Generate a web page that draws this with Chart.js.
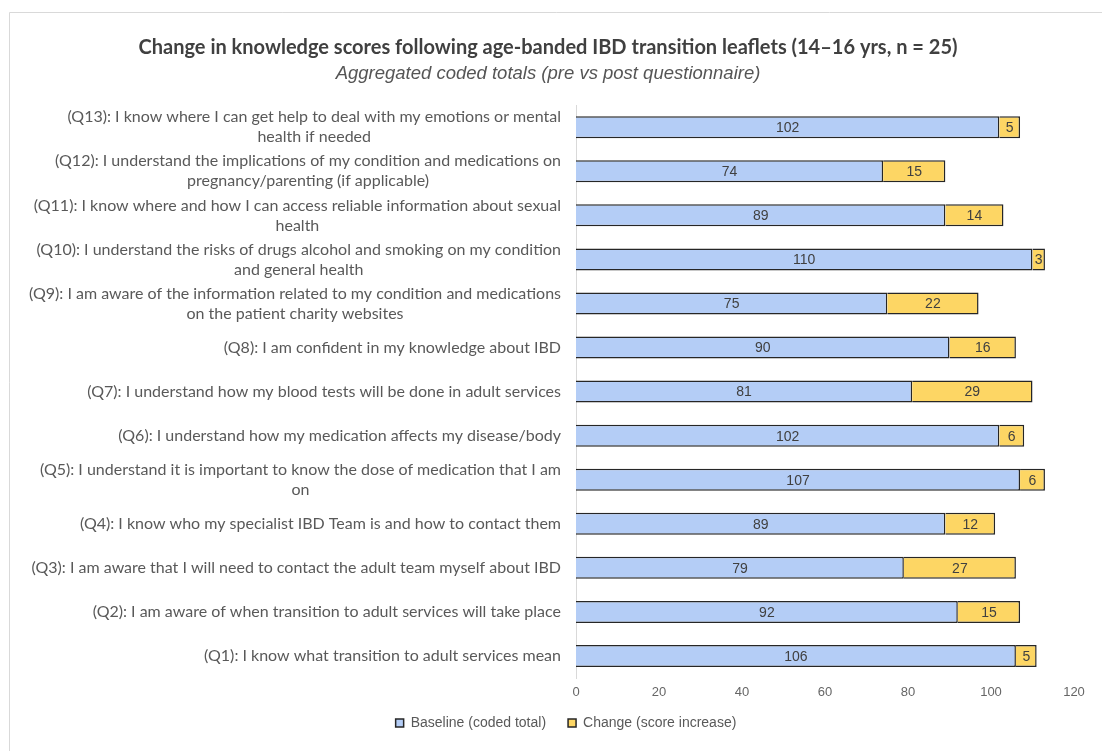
<!DOCTYPE html>
<html>
<head>
<meta charset="utf-8">
<script src="https://cdn.jsdelivr.net/npm/chart.js@4/dist/chart.umd.min.js"></script>
<style>
  html, body { margin: 0; padding: 0; background: #fff; }
  #wrap { width: 1102px; height: 751px; position: relative; }
</style>
</head>
<body>
<div id="wrap"><canvas id="bar-chart"></canvas></div>
<script>
// questions, top to bottom
let questions = [
    ["(Q13): I know where I can get help to deal with my emotions or mental", "health if needed"],
    ["(Q12): I understand the implications of my condition and medications on", "pregnancy/parenting (if applicable)"],
    ["(Q11): I know where and how I can access reliable information about sexual", "health"],
    ["(Q10): I understand the risks of drugs alcohol and smoking on my condition", "and general health"],
    ["(Q9): I am aware of the information related to my condition and medications", "on the patient charity websites"],
    "(Q8): I am confident in my knowledge about IBD",
    "(Q7): I understand how my blood tests will be done in adult services",
    "(Q6): I understand how my medication affects my disease/body",
    ["(Q5): I understand it is important to know the dose of medication that I am", "on"],
    "(Q4): I know who my specialist IBD Team is and how to contact them",
    "(Q3): I am aware that I will need to contact the adult team myself about IBD",
    "(Q2): I am aware of when transition to adult services will take place",
    "(Q1): I know what transition to adult services mean"
];

let baseline = [102, 74, 89, 110, 75, 90, 81, 102, 107, 89, 79, 92, 106];
let change   = [5, 15, 14, 3, 22, 16, 29, 6, 6, 12, 27, 15, 5];

let xTicks = [0, 20, 40, 60, 80, 100, 120];

const labelFont = "16px Lato";
const axisLeft = 576;

// light frame round the whole chart, legend nudged right and up
const framePlugin = {
    id: 'frame',
    afterLayout(chart){
        const lg = chart.legend;
        lg.left += 18;
        lg.right += 18;
        lg.top -= 8;
        lg.bottom -= 8;
    },
    beforeDraw(chart){
        const ctx = chart.ctx;
        ctx.save();
        ctx.fillStyle = '#fff';
        ctx.fillRect(0, 0, chart.width, chart.height);
        ctx.strokeStyle = '#d9d9d9';
        ctx.lineWidth = 1;
        ctx.beginPath();
        ctx.moveTo(9.5, chart.height + 5);
        ctx.lineTo(9.5, 12.5);
        ctx.lineTo(chart.width + 5, 12.5);
        ctx.stroke();
        ctx.restore();
    }
};

// question labels: each line centred on the widest line, block right aligned
const questionLabels = {
    id: 'questionLabels',
    afterDraw(chart){
        const ctx = chart.ctx;
        const y = chart.scales.y;
        const right = axisLeft - 15;
        ctx.save();
        ctx.font = labelFont;
        ctx.fillStyle = '#595959';
        ctx.textBaseline = 'middle';
        ctx.textAlign = 'center';
        questions.forEach((q, i) => {
            let lines = Array.isArray(q) ? q : [q];
            let w = Math.max(...lines.map(l => ctx.measureText(l).width));
            let cx = right - w / 2;
            let cy = y.getPixelForValue(i);
            let lh = 20;
            let top = cy - (lines.length - 1) * lh / 2;
            lines.forEach((l, k) => ctx.fillText(l, cx, top + k * lh));
        });
        ctx.restore();
    }
};

// value printed in the middle of every segment
const segmentValues = {
    id: 'segmentValues',
    afterDatasetsDraw(chart){
        const ctx = chart.ctx;
        ctx.save();
        ctx.font = "14px 'Liberation Sans'";
        ctx.fillStyle = '#404040';
        ctx.textAlign = 'center';
        ctx.textBaseline = 'middle';
        chart.data.datasets.forEach((ds, di) => {
            chart.getDatasetMeta(di).data.forEach((bar, i) => {
                let p = bar.getProps(['x', 'y', 'base'], true);
                ctx.fillText(ds.data[i], (p.x + p.base) / 2, p.y + 1);
            });
        });
        ctx.restore();
    }
};

const config = {
    type: 'bar',
    data: {
        labels: questions,
        datasets: [
            {
                label: 'Baseline (coded total)',
                data: baseline,
                backgroundColor: '#b4cdf6',
                borderColor: '#262626',
                borderWidth: 1.5,
                categoryPercentage: 1,
                barPercentage: 0.5
            },
            {
                label: 'Change (score increase)',
                data: change,
                backgroundColor: '#fdd664',
                borderColor: '#262626',
                borderWidth: 1.5,
                categoryPercentage: 1,
                barPercentage: 0.5
            }
        ]
    },
    options: {
        indexAxis: 'y',
        responsive: true,
        maintainAspectRatio: false,
        animation: false,
        layout: { padding: { top: 36, left: 22, right: 28, bottom: 3 } },
        scales: {
            x: {
                stacked: true,
                min: 0,
                max: 120,
                afterBuildTicks(scale){ scale.ticks = xTicks.map(v => ({ value: v })); },
                afterFit(scale){ scale.height = 24; },
                grid: { display: false, drawTicks: false },
                border: { display: false },
                ticks: {
                    padding: 7,
                    color: '#666',
                    font: { family: "'Liberation Sans'", size: 13 }
                }
            },
            y: {
                stacked: true,
                grid: { display: false },
                border: { display: true, color: '#d9d9d9', width: 1 },
                ticks: { display: false },
                afterFit(scale){ scale.width = axisLeft - 22; }
            }
        },
        plugins: {
            title: {
                display: true,
                text: 'Change in knowledge scores following age-banded IBD transition leaflets (14–16 yrs, n = 25)',
                color: '#404040',
                font: { family: 'Lato', size: 20, weight: 'bold', lineHeight: 1.2 },
                padding: { top: 0, bottom: 3 }
            },
            subtitle: {
                display: true,
                text: 'Aggregated coded totals (pre vs post questionnaire)',
                color: '#555',
                font: { family: "'Liberation Sans'", size: 18.5, style: 'italic', lineHeight: 1.2 },
                padding: { top: 0, bottom: 20 }
            },
            legend: {
                position: 'bottom',
                labels: {
                    boxWidth: 8,
                    boxHeight: 8,
                    padding: 22,
                    color: '#595959',
                    font: { family: "'Liberation Sans'", size: 14 }
                }
            },
            tooltip: { enabled: false }
        }
    },
    plugins: [framePlugin, questionLabels, segmentValues]
};

let myChart = new Chart(document.querySelector('#bar-chart'), config);
</script>
</body>
</html>
